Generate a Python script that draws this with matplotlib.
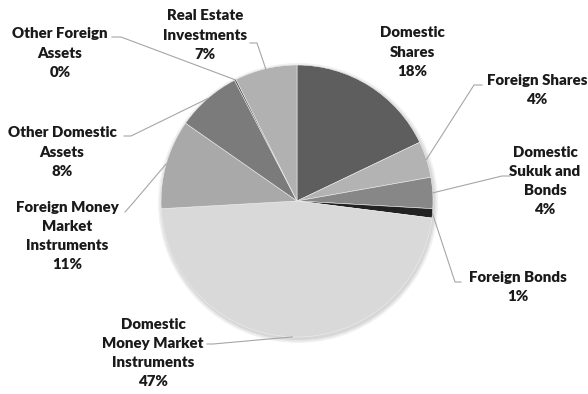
import numpy as np
import matplotlib
matplotlib.use("Agg")
import matplotlib.pyplot as plt

# portfolio allocation (percent), clockwise from 12 o'clock
categories = [
    "Domestic\nShares",
    "Foreign Shares",
    "Domestic\nSukuk and\nBonds",
    "Foreign Bonds",
    "Domestic\nMoney Market\nInstruments",
    "Foreign Money\nMarket\nInstruments",
    "Other Domestic\nAssets",
    "Other Foreign\nAssets",
    "Real Estate\nInvestments",
]
values = [17.9, 4.3, 3.7, 1.1, 47.1, 10.6, 7.7, 0.2, 7.4]
colors = ["#5e5e5e", "#b3b3b3", "#878787", "#222222", "#d9d9d9",
          "#a9a9a9", "#7b7b7b", "#404040", "#b1b1b1"]

W, H = 588, 394
fig = plt.figure(figsize=(W / 100, H / 100), dpi=100)
ax = fig.add_axes([0, 0, 1, 1])

cx, cy, r = 297, 201, 136

# soft shadow around the pie
for i, a in enumerate([0.05, 0.05, 0.06]):
    ax.add_patch(plt.Circle((cx + 1, cy + 2), r + 4 - i * 1.5, color="#000000",
                            alpha=a, lw=0, zorder=1))

# y axis is inverted, so counterclock=True draws clockwise on screen
wedges, _ = ax.pie(values, colors=colors, startangle=-90, counterclock=True,
                   center=(cx, cy), radius=r, frame=True,
                   wedgeprops=dict(linewidth=0.4, edgecolor="#eeeeee"))
for w in wedges:
    w.set_zorder(2)
ax.set_xlim(0, W)
ax.set_ylim(H, 0)
ax.set_aspect("equal")
ax.axis("off")

# text centers and leader lines (elbow, end) in pixels
label_pos = [(412, 52), (537, 90), (545, 181), (518, 287), (153, 353),
             (67, 236), (62, 152), (60, 53), (205, 35)]
leaders = [None, [(474, 85), (482, 85)], [(502, 176), (510, 176)],
           [(455, 282), (461, 282)], [(213, 344), (207, 344)],
           [(133, 203), (125, 212)], [(131, 136), (124, 136)],
           [(121, 37), (112, 37)], [(257, 43), (250, 43)]]

font = dict(family=["Lato", "DejaVu Sans"], fontweight="heavy", fontsize=10.8,
            color="#1a1a1a")

for w, name, v, pos, ld in zip(wedges, categories, values, label_pos, leaders):
    ax.text(pos[0], pos[1], f"{name}\n{v:.0f}%", ha="center", va="center",
            linespacing=1.55, **font)
    if ld is None:
        continue
    mid = np.deg2rad((w.theta1 + w.theta2) / 2)
    ex, ey = cx + r * np.cos(mid), cy + r * np.sin(mid)
    xs = [ex] + [p[0] for p in ld]
    ys = [ey] + [p[1] for p in ld]
    ax.plot(xs, ys, color="#a6a6a6", lw=0.8, zorder=3)

fig.savefig("out.png", dpi=100, facecolor="white")
